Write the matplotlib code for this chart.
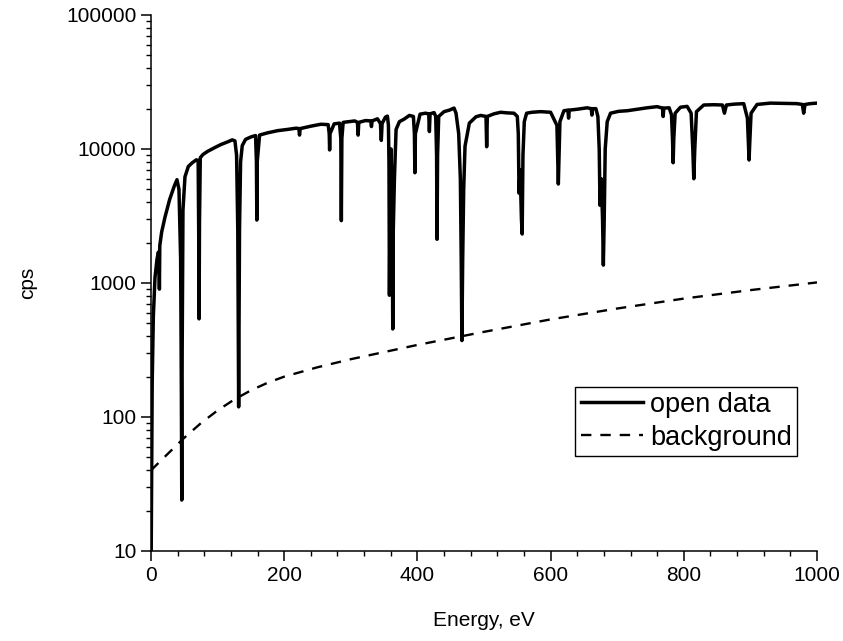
import matplotlib
matplotlib.use("Agg")
import matplotlib.pyplot as plt
from matplotlib.ticker import LogLocator, FixedLocator, MultipleLocator, NullFormatter, FuncFormatter

# ================================================================
# DATA
# ================================================================
# open-beam spectrum, point by point (energy in eV, counts per second)
open_e = [
    0.3, 1.8, 3.5, 6, 9, 11, 12.0, 12.6, 13.2, 16, 21, 28, 35, 39, 42, 44.5, 45.6, 46.2, 46.8, 48,
    51, 56, 62, 68, 70.8, 71.6, 72.2, 72.8, 74, 78,
    85, 95, 105, 115, 122, 126, 128.5, 130.3, 131.6, 132.9, 134.5, 137, 142, 150, 157, 158.3, 158.9,
    159.5, 163,
    175, 190, 205, 218, 222, 223, 224, 240, 255, 266, 267.6, 268.2, 268.8, 275, 283, 285, 285.8,
    286.6, 288.5, 297, 306, 310, 311, 312, 322, 330, 331, 332, 340, 344.5, 345.8, 347,
    352, 355, 356.5, 357.3, 358.0, 358.8, 360.5, 362.2, 363.0, 363.8, 365.5, 368, 373, 380, 388,
    394, 395.5, 396.2, 397, 404, 412, 417, 418, 419, 425, 427.5, 428.8, 429.5, 430.3, 432, 440,
    448, 455, 458, 462, 464.5, 465.8, 466.8, 468, 469.5, 471.5, 478, 488,
    495, 503, 504, 505, 515, 525, 535, 545, 550, 551.5, 552.6, 554.3, 556.2, 557.3, 558.5, 560.5,
    564, 572, 585, 600, 609.5, 610.8, 611.6, 612.4, 614, 620,
    626, 627, 628, 640, 655, 661, 662, 663, 668, 671, 673, 674.2, 676, 678, 679.2, 680.5, 682, 685,
    690, 702, 715, 730, 745, 760, 768, 769, 770, 778, 781.5, 783, 784, 785, 787, 795, 805, 811,
    813.5, 815, 816.5, 819, 830, 845, 858, 861, 864, 875, 890, 895.5, 897, 898, 899, 901, 910, 930,
    950, 970, 978, 980, 982, 990, 1000,
]
open_cps = [
    10, 180, 560, 1100, 1500, 1700, 1600, 900, 1900, 2400, 3100, 4200, 5300, 5900, 5000, 1500, 150, 24, 300, 3500,
    6200, 7400, 7900, 8300, 8200, 2500, 540, 2800, 8600, 9100,
    9600, 10200, 10800, 11300, 11700, 11500, 9000, 2500, 119, 2500, 8000, 10600, 11800, 12300, 12600, 8000, 2950,
    8000, 12700,
    13200, 13700, 14000, 14300, 14200, 12700, 14200, 14800, 15300, 15200, 13000, 9840, 13000, 15400, 15600, 12000, 2920,
    12000, 15800, 16000, 16200, 15800, 12700, 15800, 16300, 16200, 14700, 16200, 16800, 15500, 11600, 15500,
    17300, 17600, 15000, 8000, 810, 3000, 10000, 2500, 454, 2500, 6000, 14000, 16000, 16700, 17800,
    17500, 13000, 6650, 13000, 18200, 18500, 18300, 13500, 18300, 18700, 17500, 9000, 2120, 9000, 17500, 19000,
    19500, 20200, 18500, 13000, 6000, 1500, 372, 1500, 5000, 10500, 15600, 17400,
    17800, 17500, 10400, 17500, 18300, 18800, 18600, 18500, 17500, 13000, 4680, 7000, 3000, 2320, 9000, 16000,
    18500, 18800, 19000, 18800, 15000, 8000, 5480, 8000, 16000, 19300,
    19500, 17000, 19500, 19800, 20300, 20000, 17900, 20000, 20000, 17500, 10000, 3800, 6000, 3000, 1360, 3000, 10000, 16000,
    18500, 19100, 19300, 19800, 20300, 20700, 20200, 17500, 20200, 20300, 18000, 12000, 7900, 12000, 18500, 20500, 20800, 18500,
    10000, 6000, 10000, 19000, 21300, 21400, 21300, 18500, 21300, 21600, 21800, 17000, 11000, 8280, 11000, 18500, 21500, 22000,
    21900, 21800, 21500, 18500, 21500, 21800, 22000,
]

# background curve
bg_e = [0, 25, 50, 75, 100, 125, 150, 175, 200, 250, 300, 400, 500, 600, 700, 800, 900, 1000]
bg_cps = [40, 53, 70, 90, 112, 135, 158, 180, 200, 235, 270, 345, 432, 535, 645, 765, 885, 1010]

labels = ["open data", "background"]
y_ticks = [10, 100, 1000, 10000, 100000]

# ================================================================
# PLOT
# ================================================================
plt.rcParams["font.family"] = ["Liberation Sans", "DejaVu Sans"]
fs = 15
fs_leg = 19.5

fig = plt.figure(figsize=(8.43, 6.41), dpi=100)
ax = fig.add_axes([151 / 843, 1 - 551 / 641, (817 - 151) / 843, (551 - 15) / 641])

ax.plot(open_e, open_cps, color="black", lw=2.5, solid_joinstyle="round", label=labels[0])
ax.plot(bg_e, bg_cps, color="black", lw=1.7, linestyle=(0, (4.4, 3.8)), label=labels[1])

ax.set_yscale("log")
ax.set_xlim(0, 1000)
ax.set_ylim(10, 100000)

ax.xaxis.set_major_locator(MultipleLocator(200))
ax.xaxis.set_minor_locator(MultipleLocator(40))
ax.yaxis.set_major_locator(FixedLocator(y_ticks))
ax.yaxis.set_minor_locator(LogLocator(base=10, subs=range(2, 10)))
ax.yaxis.set_major_formatter(FuncFormatter(lambda v, p: f"{int(round(v))}"))
ax.yaxis.set_minor_formatter(NullFormatter())

ax.tick_params(which="major", direction="out", length=7, width=1.1, labelsize=fs, color="black")
ax.tick_params(which="minor", direction="out", length=3.5, width=1.0)
for s in ["top", "right"]:
    ax.spines[s].set_visible(False)
for s in ["left", "bottom"]:
    ax.spines[s].set_linewidth(1.1)

ax.set_xlabel("Energy, eV", fontsize=fs, labelpad=19)
ax.set_ylabel("cps", fontsize=fs, labelpad=21)

leg = ax.legend(loc="lower right", bbox_to_anchor=(0.970, 0.177), fontsize=fs_leg,
                frameon=True, fancybox=False, framealpha=1, edgecolor="black",
                handlelength=2.3, handletextpad=0.25, borderpad=0.2, labelspacing=0.25,
                borderaxespad=0)
leg.get_frame().set_linewidth(1.0)

fig.savefig("out.png", dpi=100)
